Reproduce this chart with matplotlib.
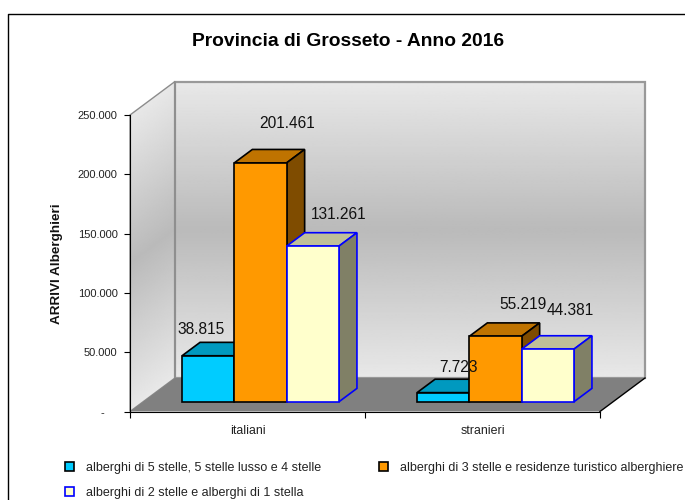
import numpy as np
import matplotlib
matplotlib.use('Agg')
import matplotlib.pyplot as plt
from matplotlib.patches import Polygon, Rectangle

plt.rcParams['font.family'] = ['Liberation Sans', 'DejaVu Sans']

title = 'Provincia di Grosseto - Anno 2016'
ylabel = 'ARRIVI Alberghieri'
categories = ['italiani', 'stranieri']
series_names = ['alberghi di 5 stelle, 5 stelle lusso e 4 stelle',
                'alberghi di 3 stelle e residenze turistico alberghiere',
                'alberghi di 2 stelle e alberghi di 1 stella']
values_5 = [38815, 7723]
values_3 = [201461, 55219]
values_2 = [131261, 44381]
yticks = [0, 50000, 100000, 150000, 200000, 250000]
ytick_labels = ['-    ', '50.000', '100.000', '150.000', '200.000', '250.000']

# colori: fronte, sopra, lato, bordo
styles = [('#00CCFF', '#0099BF', '#0099BF', 'black'),
          ('#FF9900', '#BF7300', '#7F4C00', 'black'),
          ('#FFFFCC', '#BFBF99', '#808066', '#0000FF')]

W, H = 685, 500
L, R, B, T = 130, 600, 411.5, 115
fig = plt.figure(figsize=(W / 100, H / 100), dpi=100)
ax = fig.add_axes([L / W, 1 - B / H, (R - L) / W, (B - T) / H])
ax.patch.set_visible(False)

YMAX = 250000
DX = 45 / ((R - L) / 2)
DY = 33.5 / (B - T) * YMAX


def proj(x, y, d):
    return (x + d * DX, y + d * DY)


def ramp(t):
    # grigio chiaro - scuro - chiaro
    return 0.91 - (0.91 - 0.73) * (1 - np.abs(2 * t - 1))


# parete di fondo
t = np.linspace(0, 1, 200)[:, None]
back = ax.imshow(ramp(t), cmap='gray', vmin=0, vmax=1, aspect='auto', zorder=0,
                 extent=(DX, 2 + DX, DY, YMAX + DY), clip_on=False)
ax.add_patch(Polygon([proj(0, 0, 1), proj(2, 0, 1), proj(2, YMAX, 1), proj(0, YMAX, 1)],
                     closed=True, fill=False, ec='#999999', lw=1.6, zorder=1, clip_on=False))

# parete sinistra
u, v = np.meshgrid(np.linspace(0, 1, 60), np.linspace(0, 1, 300))
ytop = YMAX + DY
yy = (1 - v) * ytop
frac = 1 - (yy - u * DY) / YMAX
left = ax.imshow(ramp(np.clip(frac, 0, 1)), cmap='gray', vmin=0, vmax=1, aspect='auto',
                 zorder=0, extent=(0, DX, 0, ytop))
wall = Polygon([proj(0, 0, 0), proj(0, 0, 1), proj(0, YMAX, 1), proj(0, YMAX, 0)],
               closed=True, fc='none', ec='#8c8c8c', lw=1, zorder=1, clip_on=False)
ax.add_patch(wall)
left.set_clip_path(wall)
left.set_clip_box(fig.bbox)

# pavimento
ax.add_patch(Polygon([proj(0, 0, 0), proj(2, 0, 0), proj(2, 0, 1), proj(0, 0, 1)],
                     closed=True, fc='#808080', ec='none', zorder=1, clip_on=False))
ax.plot(*zip(proj(2, 0, 0), proj(2, 0, 1)), color='black', lw=1, zorder=1.5, clip_on=False)


def bar3d(x, w, h, st, z):
    d0, d1 = 0.29, 0.69
    front, top, side, edge = st
    kw = dict(closed=True, ec=edge, lw=1.2, zorder=z, clip_on=False, joinstyle='miter')
    ax.add_patch(Polygon([proj(x, h, d0), proj(x, h, d1), proj(x + w, h, d1), proj(x + w, h, d0)],
                         fc=top, **kw))
    ax.add_patch(Polygon([proj(x + w, 0, d0), proj(x + w, 0, d1), proj(x + w, h, d1), proj(x + w, h, d0)],
                         fc=side, **kw))
    ax.add_patch(Polygon([proj(x, 0, d0), proj(x + w, 0, d0), proj(x + w, h, d0), proj(x, h, d0)],
                         fc=front, **kw))


bar_w = 52.3 / 235
gap = 39 / 235
z = 3
for g in range(len(categories)):
    for s, vals in enumerate([values_5, values_3, values_2]):
        bar3d(g + gap + s * bar_w, bar_w, vals[g], styles[s], z)
        z += 1

# etichette, spostamento in pixel dal centro del fronte della barra
label_dx = [[-7, 27, 26], [15, 27, 22]]
label_dy = [[26, 39, 32], [25, 32, 39]]
for g in range(len(categories)):
    for s, vals in enumerate([values_5, values_3, values_2]):
        x, y = proj(g + gap + (s + 0.5) * bar_w, vals[g], 0.29)
        ax.annotate(f'{vals[g]:,}'.replace(',', '.'), (x, y), xytext=(label_dx[g][s] * 0.72, label_dy[g][s] * 0.72),
                    textcoords='offset points', ha='center', va='center', fontsize=11.2,
                    color='#111111', zorder=50, annotation_clip=False)

ax.set_xlim(0, 2)
ax.set_ylim(0, YMAX)
ax.set_yticks(yticks)
ax.set_yticklabels(ytick_labels, fontsize=8, color='#222222')
ax.set_xticks([0, 1, 2])
ax.set_xticklabels([])
ax.set_xticks([0.5, 1.5], minor=True)
ax.set_xticklabels(categories, minor=True, fontsize=8.9, color='#222222')
ax.tick_params(axis='both', which='major', length=4, width=0.8, pad=5)
ax.tick_params(axis='x', which='minor', length=0, pad=10)
ax.spines['top'].set_visible(False)
ax.spines['right'].set_visible(False)
ax.spines['left'].set_zorder(2)
ax.spines['bottom'].set_zorder(2)

fig.text(57 / W, 1 - 264 / H, ylabel, rotation=90, ha='center', va='center',
         fontsize=9.7, fontweight='bold', color='#111111')
fig.text(348 / W, 1 - 41 / H, title, ha='center', va='center', fontsize=13.9,
         fontweight='bold', color='black')

# cornice esterna
fig.add_artist(plt.Line2D([8 / W, 8 / W, 1], [0, 1 - 14 / H, 1 - 14 / H],
                          color='black', lw=1, transform=fig.transFigure))

handles = [Rectangle((0, 0), 1, 1, fc=styles[i][0], ec=styles[i][3], lw=1.2) for i in (0, 2, 1)]
labels = [series_names[i] for i in (0, 2, 1)]
fig.legend(handles, labels, ncol=2, frameon=False, fontsize=9, loc='upper left',
           bbox_to_anchor=(65 / W, 1 - 462 / H), borderaxespad=0, borderpad=0,
           handlelength=0.72, handleheight=0.72, handletextpad=0.96,
           labelspacing=1.05, columnspacing=4.65, labelcolor='#222222')

fig.savefig('out.png', dpi=100, facecolor='white')
